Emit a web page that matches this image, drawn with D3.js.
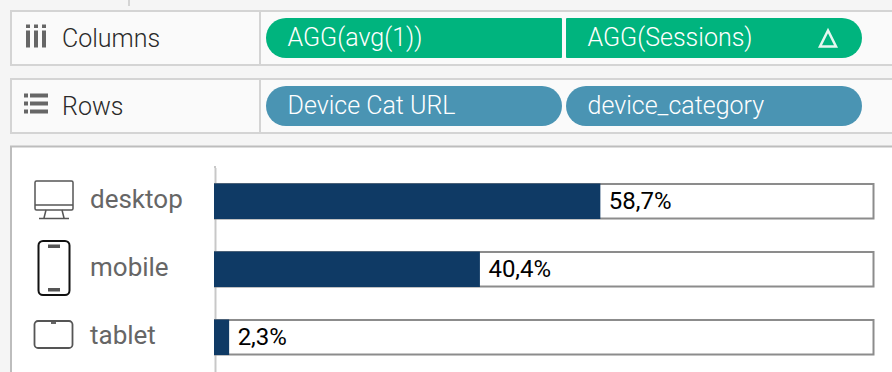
<!DOCTYPE html>
<html>
<head>
<meta charset="utf-8">
<script src="https://cdnjs.cloudflare.com/ajax/libs/d3/7.8.5/d3.min.js"></script>
<style>
  html, body { margin: 0; padding: 0; background: #f5f5f5; overflow: hidden; }
  svg { display: block; font-family: Roboto, sans-serif; }
</style>
</head>
<body>
<svg id="chart" width="892" height="372"></svg>
<script>
// values
let categories = ["desktop", "mobile", "tablet"];
let shares = [58.7, 40.4, 2.3];
let shareLabels = ["58,7%", "40,4%", "2,3%"];
let columnPills = ["AGG(avg(1))", "AGG(Sessions)"];
let rowPills = ["Device Cat URL", "device_category"];

let svg = d3.select("#chart");

// small tick at the very top
svg.append("rect").attr("x", 128).attr("y", 0).attr("width", 2).attr("height", 6).attr("fill", "#d4d4d4");

// shelf boxes
function shelf(y, label) {
    let g = svg.append("g").attr("transform", `translate(0, ${y})`);
    g.append("rect").attr("x", 11).attr("y", 0.5).attr("width", 890).attr("height", 54)
        .attr("fill", "#fafafa").attr("stroke", "#d4d4d4").attr("stroke-width", 2);
    g.append("rect").attr("x", 259).attr("y", 1).attr("width", 2).attr("height", 54).attr("fill", "#d4d4d4");
    g.append("text").attr("x", 62).attr("y", 36.5).attr("font-size", 25).attr("font-weight", 300)
        .attr("fill", "#2a2a2a").text(label);
    return g;
}

let colShelf = shelf(10.5, "Columns");
let rowShelf = shelf(78.5, "Rows");

// columns icon
[26, 34, 42].forEach(x => {
    colShelf.append("rect").attr("x", x).attr("y", 14).attr("width", 4).attr("height", 3.5).attr("fill", "#666");
    colShelf.append("rect").attr("x", x).attr("y", 20).attr("width", 4).attr("height", 17).attr("fill", "#666");
});
// rows icon
[16, 24, 32].forEach(y => {
    rowShelf.append("rect").attr("x", 24).attr("y", y - 1).attr("width", 4).attr("height", 4).attr("fill", "#666");
    rowShelf.append("rect").attr("x", 30).attr("y", y - 1).attr("width", 18).attr("height", 4).attr("fill", "#666");
});

// pills
let green = "#00b47e", blue = "#4a94b3";
let pillX = d3.scaleBand().domain([0, 1]).range([266, 862]).paddingInner(4 / 298);

colShelf.selectAll("path.pill").data(columnPills).enter().append("path")
    .attr("class", "pill").attr("fill", green)
    .attr("d", (d, i) => {
        let x = pillX(i), w = pillX.bandwidth(), y = 7.5, h = 40, r = 20;
        return i == 0
            ? `M${x + r},${y}H${x + w - 1}q1,0 1,1V${y + h - 1}q0,1 -1,1H${x + r}a${r},${r} 0 0 1 0,${-h}Z`
            : `M${x + 1},${y}H${x + w - r}a${r},${r} 0 0 1 0,${h}H${x + 1}q-1,0 -1,-1V${y + 1}q0,-1 1,-1Z`;
    });
colShelf.selectAll("text.pill").data(columnPills).enter().append("text")
    .attr("class", "pill").attr("x", (d, i) => pillX(i) + 21.5).attr("y", 35.5)
    .attr("font-size", 25).attr("font-weight", 300).attr("fill", "#fff").text(d => d);
// delta mark on the sessions pill
colShelf.append("path").attr("d", "M828,20L820,36H836Z")
    .attr("fill", "none").attr("stroke", "#e6f7f1").attr("stroke-width", 2.5);

rowShelf.selectAll("rect.pill").data(rowPills).enter().append("rect")
    .attr("class", "pill").attr("fill", blue)
    .attr("x", (d, i) => pillX(i)).attr("y", 7.5).attr("width", pillX.bandwidth()).attr("height", 40).attr("rx", 20);
rowShelf.selectAll("text.pill").data(rowPills).enter().append("text")
    .attr("class", "pill").attr("x", (d, i) => pillX(i) + 21.5).attr("y", 35.5)
    .attr("font-size", 25).attr("font-weight", 300).attr("fill", "#fff").text(d => d);

// view panel
svg.append("rect").attr("x", 11).attr("y", 146.5).attr("width", 890).attr("height", 240)
    .attr("fill", "#fff").attr("stroke", "#bdbdbd").attr("stroke-width", 2);

// scales
let xScale = d3.scaleLinear().domain([0, 100.2]).range([214, 873.5]);
let yScale = d3.scaleBand().domain(categories).range([167.5, 371.5]).paddingInner(0.485).paddingOuter(0.2425);

// y axis, labels are left aligned next to the icons
let yAxis = svg.append("g").attr("transform", "translate(215, 0)")
    .call(d3.axisLeft(yScale).tickSize(0).tickSizeOuter(0));
yAxis.select(".domain").attr("stroke", "#c8c8c8").attr("stroke-width", 2);
yAxis.selectAll("text")
    .attr("x", 90 - 215).attr("dy", "0.24em")
    .style("text-anchor", "start")
    .style("font-family", "Roboto, sans-serif")
    .style("font-size", "26px").attr("fill", "#666");
svg.append("rect").attr("x", 214).attr("y", 166).attr("width", 2).attr("height", 2).attr("fill", "#c8c8c8");

// background frames
svg.selectAll("rect.frame").data(categories).enter().append("rect")
    .attr("class", "frame")
    .attr("x", xScale(0) + 1).attr("y", d => yScale(d))
    .attr("width", xScale(100.2) - xScale(0) - 1).attr("height", yScale.bandwidth() - 0.5)
    .attr("fill", "#fff").attr("stroke", "#8c8c8c").attr("stroke-width", 2);

// bars
svg.selectAll("rect.bar").data(shares).enter().append("rect")
    .attr("class", "bar")
    .attr("x", xScale(0)).attr("y", (d, i) => yScale(categories[i]) - 0.5)
    .attr("width", d => xScale(d) - xScale(0)).attr("height", yScale.bandwidth() + 0.5)
    .attr("fill", "#0f3a65");

// value labels
svg.selectAll("text.value").data(shares).enter().append("text")
    .attr("class", "value")
    .attr("x", d => xScale(d) + 8.5).attr("y", (d, i) => yScale(categories[i]) + yScale.bandwidth() / 2)
    .attr("dy", "0.32em")
    .attr("font-size", 24).attr("fill", "#000")
    .text((d, i) => shareLabels[i]);

// device icons
let icons = svg.append("g").attr("fill", "none");
let desk = icons.append("g").attr("stroke", "#555").attr("stroke-width", 1.5);
desk.append("rect").attr("x", 35).attr("y", 181).attr("width", 38).attr("height", 29).attr("rx", 1.5);
desk.append("line").attr("x1", 35).attr("x2", 73).attr("y1", 205).attr("y2", 205);
desk.append("path").attr("d", "M46,210L44,218M62,210L64,218M39,218.5H69");
let phone = icons.append("g");
phone.append("rect").attr("x", 38.5).attr("y", 241).attr("width", 31).attr("height", 54).attr("rx", 4.5)
    .attr("stroke", "#111").attr("stroke-width", 2);
phone.append("rect").attr("x", 48).attr("y", 244.5).attr("width", 12).attr("height", 3.5).attr("fill", "#555");
phone.append("rect").attr("x", 48).attr("y", 288).attr("width", 12).attr("height", 3.5).attr("fill", "#555");
let tab = icons.append("g");
tab.append("rect").attr("x", 34.5).attr("y", 321).attr("width", 38).attr("height", 27).attr("rx", 3.5)
    .attr("stroke", "#555").attr("stroke-width", 1.8);
tab.append("rect").attr("x", 51).attr("y", 322).attr("width", 5).attr("height", 2).attr("fill", "#666");
</script>
</body>
</html>
